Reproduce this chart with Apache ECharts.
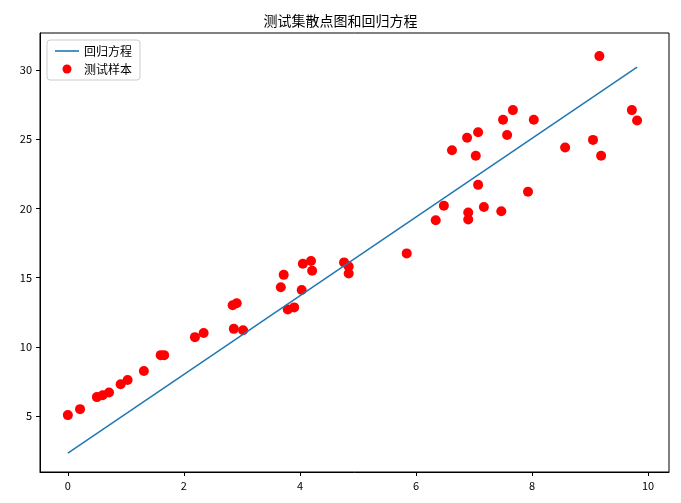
<!DOCTYPE html>
<html>
<head>
<meta charset="utf-8">
<script src="https://cdn.jsdelivr.net/npm/echarts@6/dist/echarts.min.js"></script>
<style>html,body{margin:0;background:#fff}#c{width:681px;height:503px}</style>
</head>
<body>
<div id="c"></div>
<script>
// 测试样本 x / y
const sampleX = [0, 0.21, 0.5, 0.6, 0.71, 0.91, 1.03, 1.31, 1.6, 1.66, 2.19, 2.34, 2.84, 2.91, 2.86, 3.02,
  3.67, 3.72, 3.79, 3.9, 4.03, 4.05, 4.19, 4.21, 4.76, 4.84, 4.84, 5.84, 6.34, 6.48, 6.62, 6.88, 6.9, 6.9,
  7.03, 7.07, 7.07, 7.17, 7.47, 7.5, 7.57, 7.67, 7.93, 8.03, 8.57, 9.05, 9.16, 9.19, 9.72, 9.81];
const sampleY = [5.07, 5.5, 6.37, 6.5, 6.7, 7.3, 7.6, 8.25, 9.4, 9.4, 10.7, 11.0, 13.0, 13.15, 11.3, 11.2,
  14.3, 15.2, 12.7, 12.85, 14.1, 16.0, 16.2, 15.5, 16.1, 15.8, 15.3, 16.75, 19.15, 20.2, 24.2, 25.1, 19.7, 19.2,
  23.8, 25.5, 21.7, 20.1, 19.8, 26.4, 25.3, 27.1, 21.2, 26.4, 24.4, 24.95, 31.0, 23.8, 27.1, 26.35];
// 回归方程端点
const lineX = [0, 9.81];
const lineY = [2.33, 30.2];
const xTicks = [0, 2, 4, 6, 8, 10];
const yTicks = [5, 10, 15, 20, 25, 30];

const font = '"Noto Sans CJK SC", sans-serif';
const axisCommon = {
  axisLine: { show: true, onZero: false, lineStyle: { color: '#000' } },
  axisTick: { show: true, inside: false, length: 4, lineStyle: { color: '#000' } },
  axisLabel: { color: '#000', fontSize: 11, fontFamily: font },
  splitLine: { show: false }
};
const chart = echarts.init(document.getElementById('c'));
chart.setOption({
  animation: false,
  title: { text: '测试集散点图和回归方程', left: 'center', top: 9,
    textStyle: { fontSize: 14, fontWeight: 'normal', fontFamily: font, color: '#000' } },
  legend: {
    left: 47, top: 40, orient: 'vertical', itemGap: 6, padding: [5, 8],
    borderColor: '#ccc', borderWidth: 1, borderRadius: 3, backgroundColor: '#fff',
    textStyle: { fontFamily: font, fontSize: 12, color: '#000' },
    data: [
      { name: '回归方程', icon: 'path://M0,0H30V2H0Z', itemStyle: { color: '#1f77b4' } },
      { name: '测试样本', icon: 'circle' }
    ],
    itemWidth: 24, itemHeight: 9
  },
  grid: { left: 40, right: 12, top: 33, bottom: 31, show: true, borderColor: '#000', borderWidth: 1 },
  xAxis: Object.assign({}, axisCommon, {
    type: 'value', min: -0.48, max: 10.36,
    axisTick: Object.assign({}, axisCommon.axisTick, { customValues: xTicks }),
    axisLabel: Object.assign({}, axisCommon.axisLabel, { customValues: xTicks })
  }),
  yAxis: Object.assign({}, axisCommon, {
    type: 'value', min: 0.96, max: 32.67,
    axisTick: Object.assign({}, axisCommon.axisTick, { customValues: yTicks }),
    axisLabel: Object.assign({}, axisCommon.axisLabel, { customValues: yTicks })
  }),
  series: [
    { name: '回归方程', type: 'line', symbol: 'none', lineStyle: { color: '#1f77b4', width: 1.5 },
      data: lineX.map((x, i) => [x, lineY[i]]) },
    { name: '测试样本', type: 'scatter', symbolSize: 10, itemStyle: { color: '#ff0000', opacity: 1 },
      data: sampleX.map((x, i) => [x, sampleY[i]]) }
  ]
});
</script>
</body>
</html>
